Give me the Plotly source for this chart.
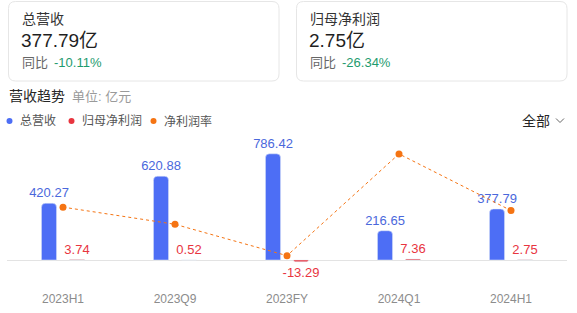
import plotly.graph_objects as go

W, H = 577, 313

categories = ["2023H1", "2023Q9", "2023FY", "2024Q1", "2024H1"]
revenue = [420.27, 620.88, 786.42, 216.65, 377.79]
net_profit = [3.74, 0.52, -13.29, 7.36, 2.75]
net_margin = [0.89, 0.08, -1.40, 3.40, 0.73]

card_titles = ["总营收", "归母净利润"]
card_values = ["377.79亿", "2.75亿"]
card_yoy = ["-10.11%", "-26.34%"]

BLUE = "#4d6ef5"
BLUE_TXT = "#4a68dc"
RED = "#e8353f"
ORANGE = "#f57413"
FONT = "Arial, Liberation Sans, Noto Sans CJK SC, sans-serif"


def px(x):
    return x / W


def py(y):
    return 1 - y / H


fig = go.Figure()

fig.add_trace(go.Bar(
    x=categories, y=revenue, marker_color=BLUE,
    text=[f"{v:.2f}" for v in revenue], textposition="outside",
    textfont=dict(color=BLUE_TXT, size=13, family=FONT),
    cliponaxis=False, constraintext="none", textangle=0, hoverinfo="skip",
))
fig.add_trace(go.Bar(
    x=categories, y=net_profit, marker_color=RED,
    text=[f"{v:.2f}" for v in net_profit], textposition="outside",
    textfont=dict(color=RED, size=13, family=FONT),
    cliponaxis=False, constraintext="none", textangle=0, hoverinfo="skip",
))
fig.add_trace(go.Scatter(
    x=categories, y=net_margin, yaxis="y2", mode="lines+markers",
    line=dict(color=ORANGE, width=1, dash="dot"),
    marker=dict(color=ORANGE, size=7), cliponaxis=False, hoverinfo="skip",
))

plot_top, plot_bottom = 130, 280
zero_px = 260
scale = 0.135
y_lo = -(plot_bottom - zero_px) / scale
y_hi = (zero_px - plot_top) / scale
z2 = 226
s2 = 21.2
y2_lo = -(plot_bottom - z2) / s2
y2_hi = (z2 - plot_top) / s2

fig.update_layout(
    width=W, height=H,
    margin=dict(l=0, r=0, t=0, b=0),
    paper_bgcolor="white", plot_bgcolor="white",
    showlegend=False,
    barmode="group", bargap=0.5, bargroupgap=0.46,
    barcornerradius=4,
    font=dict(family=FONT),
    xaxis=dict(domain=[px(7), px(567)], showgrid=False, showline=False,
               ticks="", tickfont=dict(color="#8c8c8c", size=12, family=FONT),
               ticklabelstandoff=10, fixedrange=True),
    yaxis=dict(domain=[py(plot_bottom), py(plot_top)], range=[y_lo, y_hi],
               showgrid=False, showticklabels=False, zeroline=True,
               zerolinecolor="#e3e3e3", zerolinewidth=1, fixedrange=True),
    yaxis2=dict(overlaying="y", range=[y2_lo, y2_hi], visible=False,
                showgrid=False, zeroline=False, fixedrange=True),
)

shapes = []
annotations = []


def rounded_rect(x0, y0, x1, y1, r):
    X0, X1 = px(x0), px(x1)
    Y0, Y1 = py(y0), py(y1)
    rx, ry = r / W, r / H
    path = (f"M {X0+rx},{Y0} L {X1-rx},{Y0} Q {X1},{Y0} {X1},{Y0-ry} "
            f"L {X1},{Y1+ry} Q {X1},{Y1} {X1-rx},{Y1} L {X0+rx},{Y1} "
            f"Q {X0},{Y1} {X0},{Y1+ry} L {X0},{Y0-ry} Q {X0},{Y0} {X0+rx},{Y0} Z")
    return dict(type="path", xref="paper", yref="paper", path=path,
                line=dict(color="#e6e6e6", width=1), fillcolor="white", layer="below")


def text(x, y, s, size, color, anchor="left"):
    annotations.append(dict(x=px(x), y=py(y), xref="paper", yref="paper", text=s,
                            showarrow=False, xanchor=anchor, yanchor="middle",
                            font=dict(size=size, color=color, family=FONT)))


card_x = [8.5, 296.5]
for i in range(2):
    x0 = card_x[i]
    shapes.append(rounded_rect(x0, 1.5, x0 + 270.5, 81, 7))
    tx = x0 + 11
    text(tx, 19, card_titles[i], 14, "#333333")
    text(tx - 1, 40, card_values[i], 19, "#1f1f1f")
    text(tx, 62, "同比", 13, "#666666")
    text(tx + 32, 62, card_yoy[i], 13, "#1e9b6e")

text(7, 96, "营收趋势", 14, "#262626")
text(70, 96, "单位: 亿元", 13, "#9a9a9a")

legend_items = [("总营收", BLUE, 9.5), ("归母净利润", RED, 71.5), ("净利润率", ORANGE, 153.5)]
for name, col, x in legend_items:
    shapes.append(dict(type="circle", xref="paper", yref="paper",
                       x0=px(x - 3), x1=px(x + 3), y0=py(121 + 3), y1=py(121 - 3),
                       fillcolor=col, line=dict(width=0)))
    text(x + 8, 121, name, 12, "#555555")

text(520, 121, "全部", 14, "#262626")
shapes.append(dict(type="path", xref="paper", yref="paper",
                   path=f"M {px(556)},{py(118.5)} L {px(560)},{py(122.5)} L {px(564)},{py(118.5)}",
                   line=dict(color="#666666", width=1)))

fig.update_layout(shapes=shapes, annotations=annotations)

fig.write_html("out.html")
